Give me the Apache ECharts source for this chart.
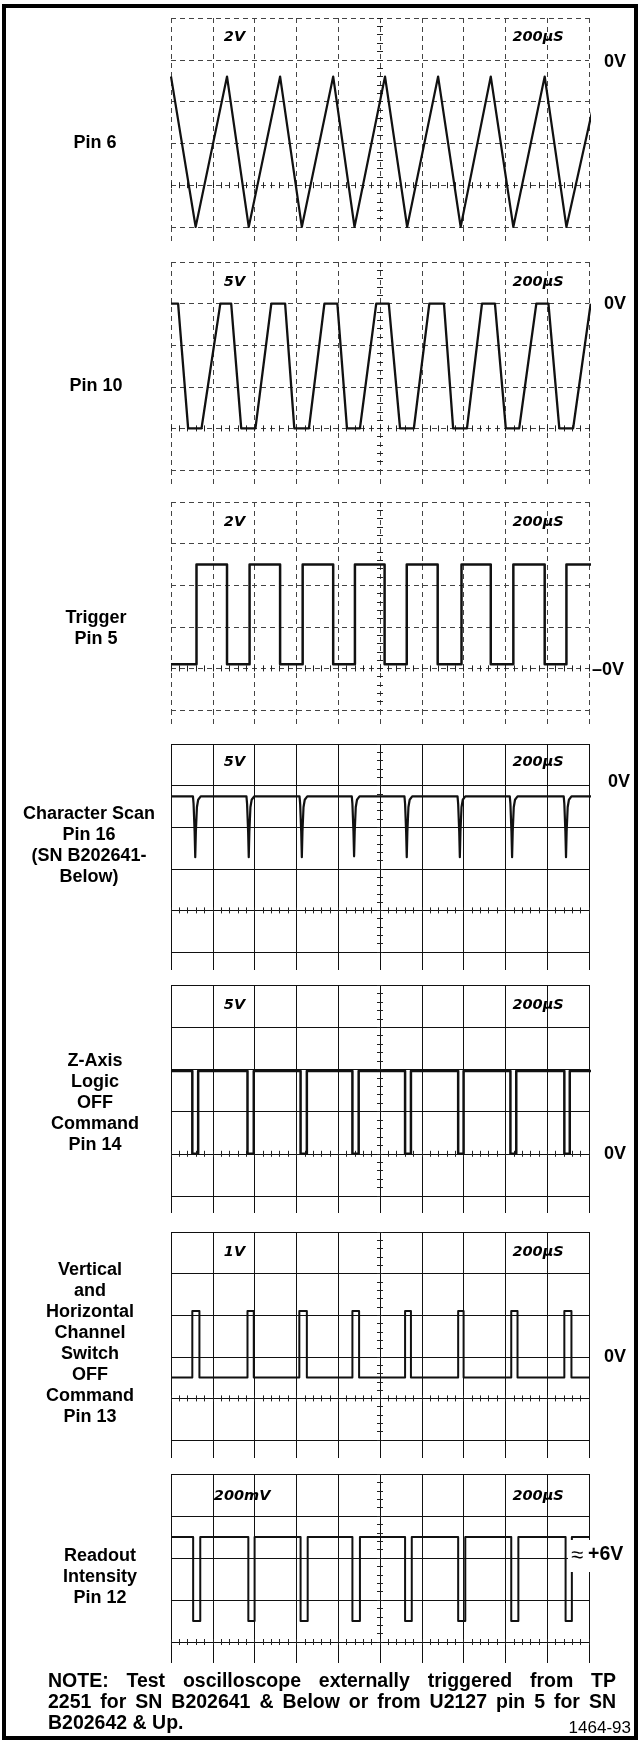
<!DOCTYPE html>
<html>
<head>
<meta charset="utf-8">
<script src="https://cdn.jsdelivr.net/npm/echarts@6/dist/echarts.min.js"></script>
<style>
  html, body { margin: 0; padding: 0; background: #fff; }
  #chart { width: 640px; height: 1742px; }
</style>
</head>
<body>
<div id="chart"></div>
<script>
// ---- Scope settings and waveform data (time in µs, amplitude in volts) ----
const sweepMicros = 2000;               // 10 divisions at 200 µs/div
const timePerDivLabel = '200µS';

const panelNames = [
  'Pin 6',
  'Pin 10',
  'Trigger\nPin 5',
  'Character Scan\nPin 16\n(SN B202641-\nBelow)',
  'Z-Axis\nLogic\nOFF\nCommand\nPin 14',
  'Vertical\nand\nHorizontal\nChannel\nSwitch\nOFF\nCommand\nPin 13',
  'Readout\nIntensity\nPin 12'
];
const voltsPerDiv = [2, 5, 2, 5, 5, 1, 0.2];
const voltsPerDivLabels = ['2V', '5V', '2V', '5V', '5V', '1V', '200mV'];
const centerLineVolts = [-6, -15, 0, -15, 0, -0.5, 5.5];
const lowestDivision = [-1, -1, -1, -1, -1, -1, 0];
const referenceLabels = ['0V', '0V', '\u20130V', '0V', '0V', '0V', '+6V'];
const referenceVolts = [0, 0, 0, 0, 0, 0, 6];

// Pin 6: ramp generator output
const pin6Trace = [
  [0, -0.8], [118, -8], [268, -0.8], [372, -8], [522, -0.8], [626, -8],
  [776, -0.8], [878, -8], [1024, -0.8], [1130, -8], [1278, -0.8], [1386, -8],
  [1530, -0.8], [1638, -8], [1788, -0.8], [1892, -8], [2052, -0.8]
];

// Pin 10: clipped ramp
const pin10Trace = [
  [0, 0], [34, 0], [82, -15], [146, -15], [236, 0], [288, 0], [336, -15], [404, -15],
  [480, 0], [546, 0], [590, -15], [660, -15], [734, 0], [796, 0], [842, -15], [904, -15],
  [982, 0], [1042, 0], [1096, -15], [1162, -15], [1236, 0], [1306, 0], [1350, -15], [1416, -15],
  [1488, 0], [1550, 0], [1602, -15], [1666, -15], [1748, 0], [1806, 0], [1858, -15], [1924, -15],
  [2008, 0]
];

// Trigger, pin 5: square wave edges
const triggerRiseMicros = [122, 376, 630, 880, 1128, 1390, 1638, 1892];
const triggerFallMicros = [268, 522, 776, 1022, 1276, 1530, 1788];
const triggerLowVolts = 0.2;
const triggerHighVolts = 5.0;
const triggerEndMicros = 2058;

// Character scan, pin 16: negative spikes on a -1.3 V baseline
const scanSpikeMicros = [116, 372, 626, 876, 1128, 1382, 1632, 1890];
const scanSpikeVolts = [-8.6, -8.6, -8.6, -8.5, -8.6, -8.6, -8.6, -8.6];
const scanBaselineVolts = -1.3;
const scanSpikeProfile = [[-11, null], [-8, -2.2], [-3, -5.5], [0, 'tip'], [3, -5.5], [8, -2.6], [14, -1.7], [26, null]];
const scanEndMicros = 2052;

// Z-axis logic OFF command, pin 14: low-going pulses
const zAxisPulseMicros = [[102, 130], [366, 396], [620, 650], [868, 898], [1120, 1148], [1374, 1400], [1624, 1652], [1882, 1908]];
const zAxisRestVolts = 9.8;
const zAxisPulseVolts = 0;
const zAxisEndMicros = 2050;

// Channel switch OFF command, pin 13: positive pulses
const channelPulseMicros = [[102, 136], [366, 396], [614, 650], [868, 900], [1120, 1148], [1374, 1400], [1628, 1658], [1882, 1916]];
const channelRestVolts = 0;
const channelPulseVolts = 1.6;
const channelEndMicros = 2062;

// Readout intensity, pin 12: low-going pulses near +6 V
const readoutPulseMicros = [[106, 140], [370, 400], [620, 654], [868, 904], [1120, 1152], [1374, 1408], [1628, 1662], [1888, 1918]];
const readoutRestVolts = 6.0;
const readoutPulseVolts = 5.6;
const readoutEndMicros = 2052;

const noteLines = [
  'NOTE: Test oscilloscope externally triggered from TP',
  '2251 for SN B202641 & Below or from U2127 pin 5 for SN',
  'B202642 & Up.'
];
const figureNumber = '1464-93';

// ---- Layout ----
const GRID_LEFT = 171;
const GRID_WIDTH = 418;
const DIV_X = GRID_WIDTH / 10;
const panelTop = [18, 262, 502, 744, 985, 1232, 1474];
const panelBottom = [227, 470, 710, 952, 1196, 1440, 1642];
const tickTail = [16, 15, 17, 18, 17, 18, 21];
const dashedGraticule = [true, true, true, false, false, false, false];
const nameCenterX = [95, 96, 96, 89, 95, 90, 100];
const nameCenterY = [143, 386, 629, 846, 1103, 1344, 1577];
const refLabelX = [604, 604, 592, 608, 604, 604, 588];
const refLabelDy = [2, 0, 2, -4, 0, -21, 18];
const scaleLabelDy = [19, 20, 20, 18, 20, 20, 22];

const LABEL_FONT = '"Liberation Sans", Arial, Helvetica, sans-serif';
const SCALE_FONT = '"DejaVu Sans", sans-serif';

// ---- Trace builders ----
function squareWave(rises, falls, low, high, end) {
  const edges = rises.map(t => [t, low, high]).concat(falls.map(t => [t, high, low]));
  edges.sort((a, b) => a[0] - b[0]);
  const pts = [[0, low]];
  edges.forEach(([t, from, to]) => { pts.push([t, from], [t, to]); });
  pts.push([end, edges.length ? edges[edges.length - 1][2] : low]);
  return pts;
}
function spikeTrain(centers, tips, base, profile, end) {
  const pts = [[0, base]];
  centers.forEach((c, k) => {
    profile.forEach(([dt, v]) => {
      pts.push([c + dt, v === null ? base : (v === 'tip' ? tips[k] : v)]);
    });
  });
  pts.push([end, base]);
  return pts;
}
function pulseTrain(pulses, rest, active, end) {
  const pts = [[0, rest]];
  pulses.forEach(([a, b]) => { pts.push([a, rest], [a, active], [b, active], [b, rest]); });
  pts.push([end, rest]);
  return pts;
}

const traces = [
  pin6Trace,
  pin10Trace,
  squareWave(triggerRiseMicros, triggerFallMicros, triggerLowVolts, triggerHighVolts, triggerEndMicros),
  spikeTrain(scanSpikeMicros, scanSpikeVolts, scanBaselineVolts, scanSpikeProfile, scanEndMicros),
  pulseTrain(zAxisPulseMicros, zAxisRestVolts, zAxisPulseVolts, zAxisEndMicros),
  pulseTrain(channelPulseMicros, channelRestVolts, channelPulseVolts, channelEndMicros),
  pulseTrain(readoutPulseMicros, readoutRestVolts, readoutPulseVolts, readoutEndMicros)
];
const traceWidths = [2.2, 2.3, 2.5, 2.2, 2.5, 2.0, 2.0];

// ---- Chart option ----
const grids = [], xAxes = [], yAxes = [], series = [], graphics = [];

function voltsRange(i) {
  return [centerLineVolts[i] + lowestDivision[i] * voltsPerDiv[i], centerLineVolts[i] + 4 * voltsPerDiv[i]];
}
function voltsToPixelY(i, v) {
  const [lo, hi] = voltsRange(i);
  return panelBottom[i] - (v - lo) / (hi - lo) * (panelBottom[i] - panelTop[i]);
}

panelNames.forEach((name, i) => {
  const height = panelBottom[i] - panelTop[i];
  const divY = height / (4 - lowestDivision[i]);
  const lineStyle = dashedGraticule[i]
    ? { color: '#444', width: 1, type: [5, 4] }
    : { color: '#111', width: 1, type: 'solid' };
  const tickStyle = { color: '#222', width: 1 };
  grids.push({ left: GRID_LEFT, top: panelTop[i], width: GRID_WIDTH, height: height });

  const hide = { axisLabel: { show: false }, splitLine: { show: false } };
  // graticule verticals plus the short tails below the last full line
  xAxes.push({
    gridIndex: i, type: 'value', min: 0, max: 10, interval: 1,
    axisLine: { show: false, onZero: false },
    axisTick: { show: true, length: tickTail[i], lineStyle: lineStyle },
    axisLabel: { show: false },
    splitLine: { show: true, lineStyle: lineStyle }
  });
  // small tick marks along the horizontal center line
  xAxes.push(Object.assign({
    gridIndex: i, type: 'value', min: 0, max: 10, interval: 1, position: 'bottom',
    offset: -((0 - lowestDivision[i]) * divY + 3),
    axisLine: { show: false, onZero: false },
    axisTick: { show: true, length: 6, lineStyle: tickStyle },
    minorTick: { show: true, splitNumber: 5, length: 6, lineStyle: tickStyle }
  }, hide));
  // time scale for the trace
  xAxes.push({ gridIndex: i, type: 'value', min: 0, max: sweepMicros, show: false, axisLine: { onZero: false } });

  // graticule horizontals
  yAxes.push({
    gridIndex: i, type: 'value', min: lowestDivision[i], max: 4, interval: 1,
    axisLine: { show: false, onZero: false },
    axisTick: { show: false },
    axisLabel: { show: false },
    splitLine: { show: true, lineStyle: lineStyle }
  });
  // small tick marks along the vertical center line
  yAxes.push(Object.assign({
    gridIndex: i, type: 'value', min: lowestDivision[i], max: 4, interval: 1, position: 'left',
    offset: -(5 * DIV_X + 3),
    axisLine: { show: false, onZero: false },
    axisTick: { show: true, length: 6, lineStyle: tickStyle },
    minorTick: { show: true, splitNumber: 5, length: 6, lineStyle: tickStyle }
  }, hide));
  const [vLo, vHi] = voltsRange(i);
  yAxes.push({ gridIndex: i, type: 'value', min: vLo, max: vHi, show: false, axisLine: { onZero: false } });

  series.push({
    type: 'line', name: name.replace(/\n/g, ' '),
    xAxisIndex: 3 * i + 2, yAxisIndex: 3 * i + 2,
    data: traces[i], showSymbol: false, symbol: 'none', clip: false,
    lineStyle: { color: '#111', width: traceWidths[i], join: 'round' },
    z: 5, silent: true
  });

  // signal name on the left
  graphics.push({
    type: 'text', x: nameCenterX[i], y: nameCenterY[i], z: 50,
    style: {
      text: name, align: 'center', verticalAlign: 'middle',
      fontFamily: LABEL_FONT, fontWeight: 'bold', fontSize: 18, lineHeight: 21, fill: '#000'
    }
  });
  // deflection and sweep settings in the top division
  const vx = voltsPerDivLabels[i].length > 3 ? GRID_LEFT + DIV_X + 1 : GRID_LEFT + DIV_X + 11;
  graphics.push({
    type: 'text', x: vx, y: panelTop[i] + scaleLabelDy[i], z: 50,
    style: {
      text: voltsPerDivLabels[i], align: 'left', verticalAlign: 'middle',
      fontFamily: SCALE_FONT, fontWeight: 'bold', fontStyle: 'italic', fontSize: 14.5, fill: '#000'
    }
  });
  graphics.push({
    type: 'text', x: GRID_LEFT + 8 * DIV_X + 7, y: panelTop[i] + scaleLabelDy[i], z: 50,
    style: {
      text: timePerDivLabel, align: 'left', verticalAlign: 'middle',
      fontFamily: SCALE_FONT, fontWeight: 'bold', fontStyle: 'italic', fontSize: 14.5, fill: '#000'
    }
  });
  // reference level on the right
  const ry = voltsToPixelY(i, referenceVolts[i]) + refLabelDy[i];
  if (referenceLabels[i] === '+6V') {
    // approximate level, set on a white patch over the graticule edge
    graphics.push({
      type: 'rect', z: 40,
      shape: { x: 568, y: ry - 15, width: 66, height: 32 },
      style: { fill: '#fff' }
    });
    graphics.push({
      type: 'text', x: 571, y: ry + 1, z: 50,
      style: {
        text: '\u2248', align: 'left', verticalAlign: 'middle',
        fontFamily: LABEL_FONT, fontSize: 22, fill: '#000'
      }
    });
  }
  graphics.push({
    type: 'text', x: refLabelX[i], y: ry, z: 50,
    style: {
      text: referenceLabels[i], align: 'left', verticalAlign: 'middle',
      fontFamily: LABEL_FONT, fontWeight: 'bold', fontSize: referenceLabels[i] === '+6V' ? 19.5 : 18, fill: '#000'
    }
  });
});

// ---- Note under the last display, justified like typeset copy ----
const NOTE_SIZE = 19.5;
const NOTE_LEFT = 48, NOTE_RIGHT = 616;
const noteLineY = [1682, 1703, 1724];
const measureCtx = document.createElement('canvas').getContext('2d');
measureCtx.font = 'bold ' + NOTE_SIZE + 'px ' + LABEL_FONT;
noteLines.forEach((line, li) => {
  const words = line.split(' ');
  const justify = li < noteLines.length - 1;
  const widths = words.map(w => measureCtx.measureText(w).width);
  const total = widths.reduce((a, b) => a + b, 0);
  const gap = justify ? (NOTE_RIGHT - NOTE_LEFT - total) / (words.length - 1) : measureCtx.measureText(' ').width;
  let x = NOTE_LEFT;
  words.forEach((w, k) => {
    graphics.push({
      type: 'text', x: x, y: noteLineY[li], z: 50,
      style: {
        text: w, align: 'left', verticalAlign: 'middle',
        fontFamily: LABEL_FONT, fontWeight: 'bold', fontSize: NOTE_SIZE, fill: '#000'
      }
    });
    x += widths[k] + gap;
  });
});
graphics.push({
  type: 'text', x: 631, y: 1728, z: 50,
  style: {
    text: figureNumber, align: 'right', verticalAlign: 'middle',
    fontFamily: LABEL_FONT, fontSize: 17, fill: '#000'
  }
});

// outer frame
graphics.push({
  type: 'rect', z: 60,
  shape: { x: 4, y: 6, width: 632, height: 1732 },
  style: { fill: 'none', stroke: '#000', lineWidth: 4 }
});

const chart = echarts.init(document.getElementById('chart'), null, { renderer: 'canvas' });
chart.setOption({
  animation: false,
  backgroundColor: '#fff',
  grid: grids,
  xAxis: xAxes,
  yAxis: yAxes,
  series: series,
  graphic: { elements: graphics }
});
</script>
</body>
</html>
